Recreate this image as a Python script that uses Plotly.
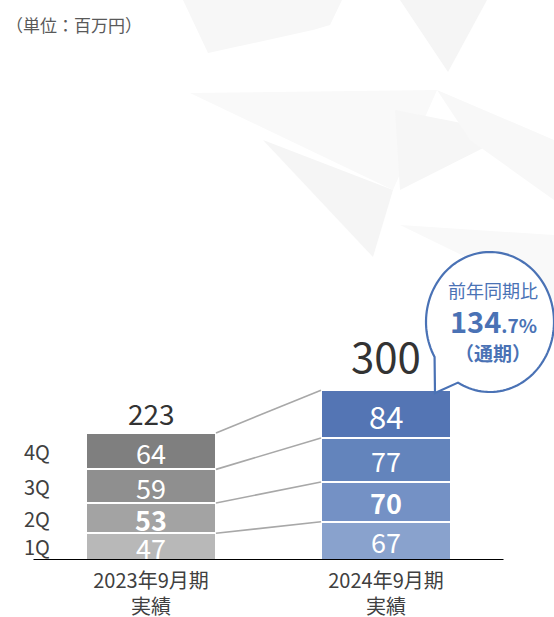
import numpy as np
import plotly.graph_objects as go

# ---------------- data ----------------
periods = ["2023年9月期<br>実績", "2024年9月期<br>実績"]
quarters = ["1Q", "2Q", "3Q", "4Q"]
values_2023 = [47, 53, 59, 64]
values_2024 = [67, 70, 77, 84]
total_labels = ["223", "300"]
bold_quarters = ["2Q"]
unit_label = "（単位：百万円）"
yoy_title = "前年同期比"
yoy_int = "134"
yoy_dec = ".7%"
yoy_note = "（通期）"

# ---------------- style ----------------
FONT = "Noto Sans CJK JP"
colors_2023 = ["#b8b8b8", "#a3a3a3", "#8f8f8f", "#7f7f7f"]
colors_2024 = ["#89a2cd", "#7491c5", "#6384bc", "#5475b4"]
# label font sizes per bar (the top 2024 label is larger in the reference)
label_sizes = [[27, 27, 27, 27], [27, 27, 27, 31]]
BLUE = "#4a72b5"
W, H = 554, 617
MB = 57
PH = H - MB  # plot area height in px
X0PX, DXPX = 151, 235  # pixel of category 0 and spacing
PX_PER_UNIT = 0.57
BAR_W = 130 / DXPX


def PX(x):
    return x / W


def PY(y):
    return 1 - y / PH


series = [values_2023, values_2024]
cums = [np.cumsum(v) for v in series]

fig = go.Figure()

# stacked bars
for qi, q in enumerate(quarters):
    fig.add_trace(go.Bar(
        x=[0, 1],
        y=[values_2023[qi], values_2024[qi]],
        width=BAR_W,
        marker=dict(color=[colors_2023[qi], colors_2024[qi]],
                    line=dict(color="white", width=2)),
        name=q,
        hoverinfo="skip",
    ))

# connector lines
for qi in range(len(quarters)):
    fig.add_trace(go.Scatter(
        x=[BAR_W / 2, 1 - BAR_W / 2],
        y=[cums[0][qi], cums[1][qi]],
        mode="lines",
        line=dict(color="#a8a8a8", width=1.6),
        hoverinfo="skip",
    ))

annotations = []
# segment labels
for bi, vals in enumerate(series):
    for qi, v in enumerate(vals):
        txt = f"<b>{v}</b>" if quarters[qi] in bold_quarters else str(v)
        annotations.append(dict(
            x=bi, y=cums[bi][qi] - v / 2, xref="x", yref="y",
            xanchor="center", yanchor="middle",
            text=txt, showarrow=False, yshift=-1,
            font=dict(family=FONT, size=label_sizes[bi][qi], color="white"),
        ))

# quarter labels at left
for qi, q in enumerate(quarters):
    annotations.append(dict(
        x=(37 - X0PX) / DXPX, y=cums[0][qi] - values_2023[qi] / 2,
        xref="x", yref="y", xanchor="center", yanchor="middle",
        text=q, showarrow=False,
        font=dict(family=FONT, size=20, color="#404040"),
    ))

# totals
tot_sizes = [28, 42]
tot_shift = [20, 36]
for bi in range(2):
    annotations.append(dict(
        x=bi, y=cums[bi][-1], xref="x", yref="y",
        xanchor="center", yanchor="middle",
        text=total_labels[bi], showarrow=False, yshift=tot_shift[bi],
        font=dict(family=FONT, size=tot_sizes[bi], color="#333333"),
    ))

# unit label
annotations.append(dict(
    x=PX(4), y=PY(25), xref="paper", yref="paper", xanchor="left",
    yanchor="middle", text=unit_label, showarrow=False,
    font=dict(family=FONT, size=17, color="#595959"),
))

# bubble texts
annotations += [
    dict(x=PX(493), y=PY(290), xref="paper", yref="paper", text=yoy_title,
         xanchor="center", yanchor="middle",
         showarrow=False, font=dict(family=FONT, size=18, color=BLUE)),
    dict(x=PX(493), y=PY(320), xref="paper", yref="paper",
         xanchor="center", yanchor="middle",
         text=f"<b>{yoy_int}</b><b style='font-size:19px'>{yoy_dec}</b>",
         showarrow=False, font=dict(family=FONT, size=29, color=BLUE)),
    dict(x=PX(493), y=PY(352), xref="paper", yref="paper",
         xanchor="center", yanchor="middle",
         text=f"<b>{yoy_note}</b>",
         showarrow=False, font=dict(family=FONT, size=19, color=BLUE)),
]

shapes = []
# faint background polygons
polys = [
    ([(183, 0), (342, 0), (330, 25), (313, 30), (208, 53)], "#f7f7f7"),
    ([(400, 0), (487, 0), (448, 72)], "#f5f5f5"),
    ([(190, 93), (437, 90), (393, 190)], "#f9f9f9"),
    ([(263, 140), (393, 190), (373, 257)], "#f5f5f5"),
    ([(395, 110), (513, 133), (400, 190)], "#f6f6f6"),
    ([(437, 90), (554, 140), (554, 200), (470, 140)], "#f8f8f8"),
    ([(400, 225), (554, 235), (554, 300)], "#f9f9f9"),
]
for pts, col in polys:
    path = "M " + " L ".join(f"{PX(x):.5f},{PY(y):.5f}" for x, y in pts) + " Z"
    shapes.append(dict(type="path", path=path, xref="paper", yref="paper",
                       fillcolor=col, line=dict(width=0), layer="below"))

# baseline
shapes.append(dict(type="line", xref="x", yref="y", x0=-0.5, x1=1.5, y0=0, y1=0,
                   line=dict(color="#000000", width=2)))

# speech bubble
cx, cy, rx, ry = 490, 322, 64, 70
th = np.deg2rad(np.linspace(150, 480, 120))
pts = [(cx + rx * np.cos(t), cy + ry * np.sin(t)) for t in th]
pts.append((435, 393))
bpath = "M " + " L ".join(f"{PX(x):.5f},{PY(y):.5f}" for x, y in pts) + " Z"
shapes.append(dict(type="path", path=bpath, xref="paper", yref="paper",
                   fillcolor="white", line=dict(color=BLUE, width=2.2),
                   layer="above"))

fig.update_layout(
    width=W, height=H,
    margin=dict(l=0, r=0, t=0, b=MB, autoexpand=False),
    barmode="stack",
    bargap=0,
    showlegend=False,
    plot_bgcolor="white",
    paper_bgcolor="white",
    annotations=annotations,
    shapes=shapes,
    xaxis=dict(
        range=[-X0PX / DXPX, (W - X0PX) / DXPX],
        tickvals=[0, 1], ticktext=periods,
        tickfont=dict(family=FONT, size=20, color="#404040"),
        showgrid=False, zeroline=False, showline=False, ticks="",
        ticklabelstandoff=7,
        automargin=False, fixedrange=True,
    ),
    yaxis=dict(
        range=[0, PH / PX_PER_UNIT],
        visible=False, showgrid=False, zeroline=False, fixedrange=True,
    ),
)

fig.write_html(
    "out.html",
    config={"displayModeBar": False},
    post_script="document.body.style.margin='0';document.body.style.overflow='hidden';",
)
